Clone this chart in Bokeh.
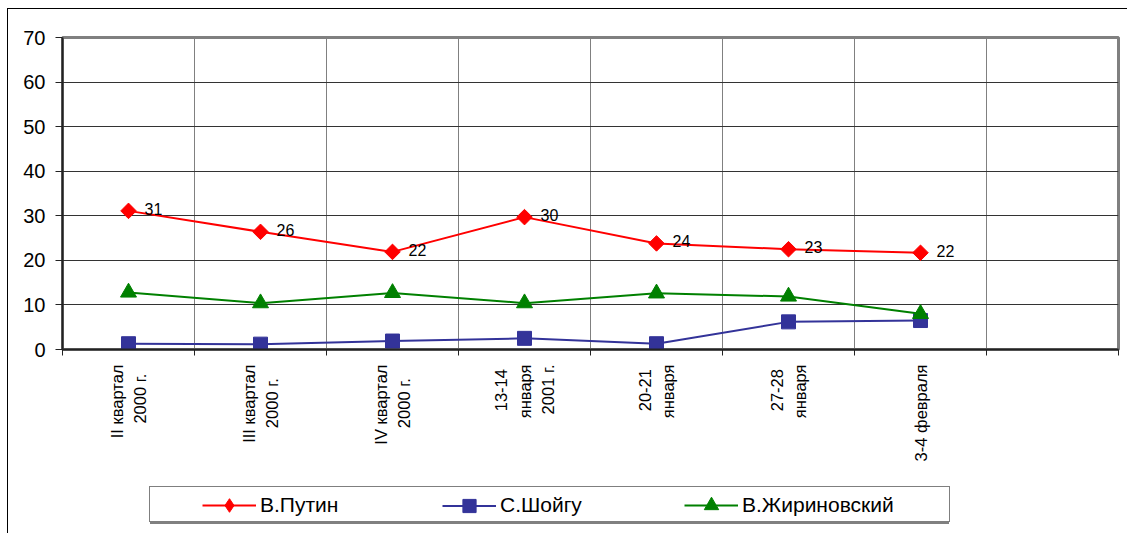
import math
from bokeh.plotting import figure
from bokeh.layouts import column
from bokeh.models import FixedTicker, Legend, LegendItem, Range1d, ColumnDataSource
from bokeh.embed import file_html
from bokeh.resources import INLINE
from bokeh.core.properties import value

NB = "\u00a0"
categories = ["II квартал\n2000 г." + NB * 2, "III квартал\n2000 г." + NB * 3,
              "IV квартал\n2000 г." + NB * 3,
              "13-14" + NB + "\nянваря\n2001 г.", "20-21" + NB + "\nянваря",
              "27-28" + NB + "\nянваря", "3-4 февраля"]
putin = [31.1, 26.4, 21.9, 29.7, 23.8, 22.5, 21.7]
putin_labels = ["31", "26", "22", "30", "24", "23", "22"]
shoigu = [1.3, 1.2, 1.9, 2.5, 1.3, 6.2, 6.5]
zhirinovsky = [12.8, 10.4, 12.7, 10.4, 12.6, 11.9, 8.0]
series_names = ["В.Путин", "С.Шойгу", "В.Жириновский"]
y_ticks = [0, 10, 20, 30, 40, 50, 60, 70]
n_slots = 8

FONT = "Liberation Sans"
xs = [i + 0.5 for i in range(len(categories))]
bounds = list(range(n_slots + 1))
colors = ["#ff0000", "#333399", "#008000"]

W = 1119
H1 = 470
H2 = 54

p = figure(width=W, height=H1, output_backend="svg", toolbar_location=None,
           x_range=Range1d(0, n_slots), y_range=Range1d(0, 70),
           min_border_left=54, min_border_top=28, min_border_right=9, min_border_bottom=130)
p.background_fill_color = "white"
p.border_fill_color = "white"
p.outline_line_color = "#808080"
p.outline_line_width = 3

# grids
p.xgrid.ticker = FixedTicker(ticks=bounds[1:-1])
p.xgrid.grid_line_color = "#808080"
p.xgrid.grid_line_width = 1
p.ygrid.ticker = FixedTicker(ticks=y_ticks[1:-1])
p.ygrid.grid_line_color = "#333333"
p.ygrid.grid_line_width = 1

# y axis
p.yaxis.ticker = FixedTicker(ticks=y_ticks)
p.yaxis.axis_line_color = "#222222"
p.yaxis.axis_line_width = 2
p.yaxis.major_tick_line_color = "#222222"
p.yaxis.major_tick_out = 7
p.yaxis.major_tick_in = 0
p.yaxis.minor_tick_line_color = None
p.yaxis.major_label_text_font = FONT
p.yaxis.major_label_text_font_size = "20px"
p.yaxis.major_label_text_color = "black"
p.yaxis.major_label_standoff = 10

# x axis
p.xaxis.ticker = FixedTicker(ticks=xs, minor_ticks=bounds)
p.xaxis.major_label_overrides = {x: c for x, c in zip(xs, categories)}
p.xaxis.axis_line_color = "#222222"
p.xaxis.axis_line_width = 2
p.xaxis.major_tick_line_color = None
p.xaxis.major_tick_out = 0
p.xaxis.major_tick_in = 0
p.xaxis.minor_tick_line_color = "#222222"
p.xaxis.minor_tick_out = 6
p.xaxis.minor_tick_in = 0
p.xaxis.major_label_orientation = math.pi / 2
p.xaxis.major_label_text_font = FONT
p.xaxis.major_label_text_font_size = "16.5px"
p.xaxis.major_label_text_line_height = 1.3
p.xaxis.major_label_text_color = "black"
p.xaxis.major_label_standoff = 9

src = ColumnDataSource(dict(x=xs, putin=putin, shoigu=shoigu, zhir=zhirinovsky, lab=putin_labels))

p.line("x", "putin", source=src, line_color=colors[0], line_width=2)
p.scatter("x", "putin", source=src, marker="square", angle=math.pi / 4, size=11,
          fill_color=colors[0], line_color=colors[0])
p.line("x", "shoigu", source=src, line_color=colors[1], line_width=2)
p.scatter("x", "shoigu", source=src, marker="square", size=14,
          fill_color=colors[1], line_color=colors[1])
p.line("x", "zhir", source=src, line_color=colors[2], line_width=2)
p.scatter("x", "zhir", source=src, marker="triangle", size=16,
          fill_color=colors[2], line_color=colors[2])

p.text("x", "putin", text="lab", source=src, x_offset=16, y_offset=-2,
       text_baseline="alphabetic", text_align="left", text_font=value(FONT),
       text_font_size="16px", text_color="black")

# ---- legend strip (separate figure below the chart) ----
lf = figure(width=W, height=H2, output_backend="svg", toolbar_location=None,
            x_range=Range1d(0, 1), y_range=Range1d(0, 1),
            x_axis_location=None, y_axis_location=None,
            min_border_left=0, min_border_right=0, min_border_top=0, min_border_bottom=0)
lf.outline_line_color = None
lf.background_fill_color = "white"
lf.border_fill_color = "white"
lf.xgrid.visible = False
lf.ygrid.visible = False

off = ColumnDataSource(dict(x=[-10.0, -9.0], y=[-10.0, -10.0]))
dummy = lf.scatter("x", "y", source=off, marker="circle", size=1, fill_alpha=0, line_alpha=0)
ll1 = lf.line("x", "y", source=off, line_color=colors[0], line_width=2)
lm1 = lf.scatter("x", "y", source=off, marker="diamond",
                 fill_color=colors[0], line_color=colors[0])
ll2 = lf.line("x", "y", source=off, line_color=colors[1], line_width=2)
lm2 = lf.scatter("x", "y", source=off, marker="square",
                 fill_color=colors[1], line_color=colors[1])
ll3 = lf.line("x", "y", source=off, line_color=colors[2], line_width=2)
lm3 = lf.scatter("x", "y", source=off, marker="triangle",
                 fill_color=colors[2], line_color=colors[2])

FRAME_LEFT = 62  # page x of the aligned frame
box_w, box_h = 799, 34
box_left = 149 - FRAME_LEFT
box_bottom = 533 - 522
shadow = Legend(items=[LegendItem(label=NB, renderers=[dummy])],
                location=(box_left + 1, box_bottom - 2), orientation="horizontal",
                padding=0, margin=0, glyph_width=1, glyph_height=box_h, label_standoff=0,
                label_width=box_w - 1, label_height=box_h,
                border_line_color=None, background_fill_color="#808080",
                background_fill_alpha=1.0)
box = Legend(items=[LegendItem(label=NB, renderers=[dummy])],
             location=(box_left, box_bottom), orientation="horizontal",
             padding=0, margin=0, glyph_width=1, glyph_height=box_h, label_standoff=0,
             label_width=box_w - 1, label_height=box_h,
             border_line_color="black", border_line_width=1, background_fill_color="white",
             background_fill_alpha=1.0)
lf.add_layout(shadow, "center")
lf.add_layout(box, "center")

center_up = 533 - (488 + 522) / 2
item_specs = [
    (series_names[0], [ll1, lm1], 202 - FRAME_LEFT, 34),
    (series_names[1], [ll2, lm2], 442 - FRAME_LEFT, 33),
    (series_names[2], [ll3, lm3], 684 - FRAME_LEFT, 36),
]
for name, rends, left, gh in item_specs:
    lg = Legend(items=[LegendItem(label=name, renderers=rends)],
                location=(left, center_up - gh / 2), orientation="horizontal",
                padding=0, margin=0, spacing=0, glyph_width=54, glyph_height=gh,
                label_standoff=4, label_height=gh,
                border_line_color=None, background_fill_alpha=0,
                label_text_font=FONT, label_text_font_size="21px", label_text_color="black")
    lf.add_layout(lg, "center")

lay = column(p, lf, spacing=0)
lay.styles = {"margin-left": "7px", "margin-top": "8px",
              "border-left": "1px solid black", "border-top": "1px solid black"}

open("out.html", "w").write(file_html(lay, INLINE))
